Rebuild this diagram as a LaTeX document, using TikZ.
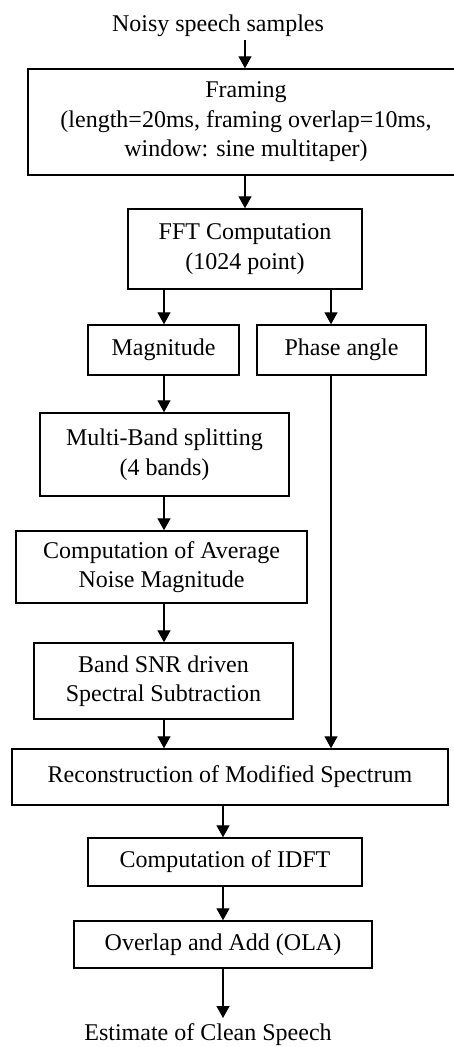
\documentclass[tikz,border=0pt]{standalone}
\usepackage{fontspec}
\setmainfont{Liberation Serif}
\usetikzlibrary{arrows.meta}
\begin{document}
\begin{tikzpicture}[x=1pt,y=-1pt,
  box/.style={draw, line width=1.4pt, rectangle, inner sep=0pt, align=center,
    font=\fontsize{24}{29.5}\selectfont},
  lbl/.style={inner sep=0pt, font=\fontsize{24}{29.5}\selectfont},
  arr/.style={line width=1.3pt, -{Triangle[length=12pt,width=13pt]}},
  ln/.style={line width=1.3pt}]
\useasboundingbox (0,0) rectangle (454,1047);
\fill[white] (0,0) rectangle (454,1047);
\clip (0,0) rectangle (454,1047);
\coordinate (xl) at (164,0);
\coordinate (xr) at (331,0);
\coordinate (xc) at (223,0);
\coordinate (xt) at (245,0);
\node[lbl] (in) at (218,26) {Noisy speech samples};
\node[box, minimum width=436pt, minimum height=106pt] (frame) at (246,122)
  {Framing\\(length=20ms, framing overlap=10ms,\\window: sine multitaper)};
\node[box, minimum width=234pt, minimum height=80pt] (fft) at (245,249)
  {FFT Computation\\(1024 point)};
\node[box, minimum width=151pt, minimum height=50pt] (mag) at (163.5,350) {Magnitude};
\node[box, minimum width=169pt, minimum height=50pt] (phase) at (341.5,350) {Phase angle};
\node[box, minimum width=249pt, minimum height=83pt] (multi) at (164.5,454.5)
  {Multi-Band splitting\\(4 bands)};
\node[box, minimum width=291pt, minimum height=72pt] (avg) at (161.5,567)
  {Computation of Average\\Noise Magnitude};
\node[box, minimum width=259pt, minimum height=76pt] (snr) at (163.5,681)
  {Band SNR driven\\Spectral Subtraction};
\node[box, minimum width=436pt, minimum height=56pt] (recon) at (230,777)
  {Reconstruction of Modified Spectrum};
\node[box, minimum width=274pt, minimum height=48pt] (idft) at (225,862)
  {Computation of IDFT};
\node[box, minimum width=298pt, minimum height=47pt] (ola) at (223,944.5)
  {Overlap and Add (OLA)};
\node[lbl] (out) at (208,1035) {Estimate of Clean Speech};
\coordinate (inb) at (245,40);
\coordinate (outt) at (223,1018);
\draw[arr] (inb) -- (frame.north -| xt);
\draw[arr] (frame.south -| xt) -- (fft.north -| xt);
\draw[arr] (fft.south -| xl) -- (mag.north -| xl);
\draw[arr] (fft.south -| xr) -- (phase.north -| xr);
\draw[arr] (mag.south -| xl) -- (multi.north -| xl);
\draw[arr] (multi.south -| xl) -- (avg.north -| xl);
\draw[arr] (avg.south -| xl) -- (snr.north -| xl);
\draw[arr] (snr.south -| xl) -- (recon.north -| xl);
\draw[arr] (phase.south -| xr) -- (recon.north -| xr);
\draw[arr] (recon.south -| xc) -- (idft.north -| xc);
\draw[arr] (idft.south -| xc) -- (ola.north -| xc);
\draw[arr] (ola.south -| xc) -- (outt);
\end{tikzpicture}
\end{document}
